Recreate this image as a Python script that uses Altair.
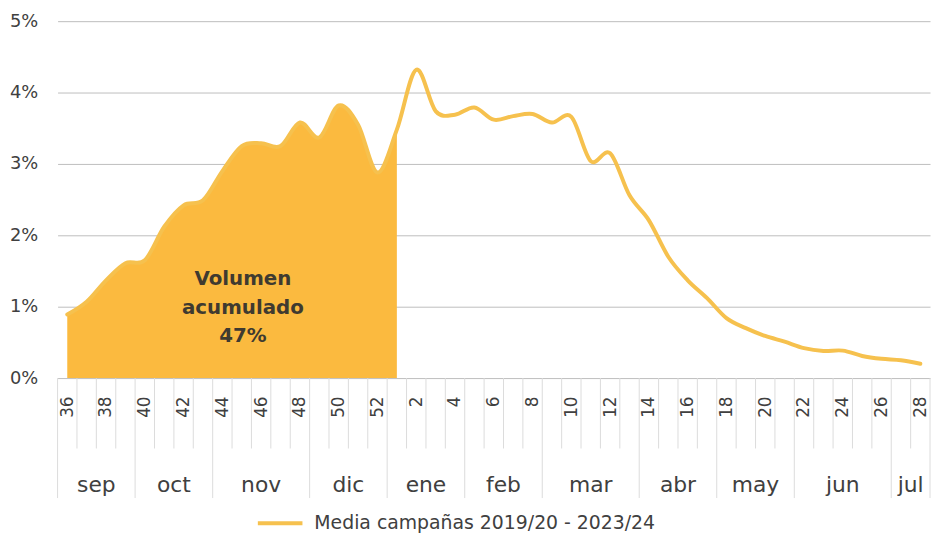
import json
import altair as alt
import pandas as pd

# ---------------- data ----------------
week_labels = [36, 37, 38, 39, 40, 41, 42, 43, 44, 45, 46, 47, 48, 49, 50, 51, 52,
               1, 2, 3, 4, 5, 6, 7, 8, 9, 10, 11, 12, 13, 14, 15, 16, 17, 18, 19, 20,
               21, 22, 23, 24, 25, 26, 27, 28]
values = [0.89, 1.07, 1.37, 1.61, 1.65, 2.12, 2.42, 2.49, 2.90, 3.25, 3.29, 3.25,
          3.58, 3.37, 3.82, 3.55, 2.88, 3.48,
          4.32, 3.74, 3.69, 3.79, 3.62, 3.67, 3.70, 3.58, 3.66, 3.04, 3.15, 2.56,
          2.21, 1.70, 1.37, 1.12, 0.84, 0.70, 0.59, 0.51, 0.42, 0.38, 0.385, 0.31,
          0.27, 0.25, 0.20]
months = ["sep", "oct", "nov", "dic", "ene", "feb", "mar", "abr", "may", "jun", "jul"]
month_weeks = [4, 4, 5, 4, 4, 4, 5, 4, 4, 5, 2]
series_name = "Media campañas 2019/20 - 2023/24"
annotation = ["Volumen", "acumulado", "47%"]
area_last_index = 17          # accumulated area covers weeks 36 .. 1
y_ticks = [0, 1, 2, 3, 4, 5]

# ---------------- style ----------------
FONT = "DejaVu Sans"
AREA_COLOR = "#FBBA3F"
LINE_COLOR = "#F6C14E"
TEXT_COLOR = "#404040"
GRID_COLOR = "#BDBDBD"
SEP_COLOR = "#DCDCDC"

n = len(week_labels)
df = pd.DataFrame({"x": list(range(n)), "v": values, "serie": series_name})
df_area = df[df["x"] <= area_last_index]

# band boundaries
month_bounds = []
acc = -0.5
month_bounds.append(acc)
month_centers = []
for w in month_weeks:
    month_centers.append(acc + w / 2)
    acc += w
    month_bounds.append(acc)
all_bounds = [i - 0.5 for i in range(n + 1)]
minor_bounds = [b for b in all_bounds if b not in month_bounds]

df_minor = pd.DataFrame({"x": minor_bounds})
df_major = pd.DataFrame({"x": month_bounds})
df_months = pd.DataFrame({"x": month_centers, "m": months})
df_note = pd.DataFrame({"x": [9.06], "v": [1.39]})

label_expr = json.dumps([str(w) for w in week_labels]) + "[datum.value]"

X = alt.X(
    "x:Q",
    scale=alt.Scale(domain=[-0.5, n - 0.5], nice=False, zero=False),
    axis=alt.Axis(
        values=list(range(0, n, 2)),
        labelExpr=label_expr,
        labelAngle=270,
        labelAlign="right",
        labelBaseline="middle",
        labelPadding=18,
        labelFontSize=17,
        labelFont=FONT,
        labelColor=TEXT_COLOR,
        ticks=False,
        tickSize=0,
        domain=False,
        grid=False,
        title=None,
        labelOverlap=False,
    ),
)
Y = alt.Y(
    "v:Q",
    scale=alt.Scale(domain=[0, 5], nice=False),
    axis=alt.Axis(
        values=y_ticks,
        labelExpr="datum.value + '%'",
        labelFontSize=18,
        labelFont=FONT,
        labelColor=TEXT_COLOR,
        labelPadding=20,
        ticks=False,
        tickSize=0,
        domain=False,
        grid=True,
        gridColor=GRID_COLOR,
        gridWidth=1,
        title=None,
    ),
)

minor_rules = alt.Chart(df_minor).mark_rule(color=SEP_COLOR, strokeWidth=1).encode(
    x=X, y=alt.value(360), y2=alt.value(431)
)
major_rules = alt.Chart(df_major).mark_rule(color=SEP_COLOR, strokeWidth=1).encode(
    x=X, y=alt.value(360), y2=alt.value(481)
)
month_text = alt.Chart(df_months).mark_text(
    font=FONT, fontSize=22, color=TEXT_COLOR, baseline="middle", align="center"
).encode(x=X, y=alt.value(468), text="m:N")

area = alt.Chart(df_area).mark_area(
    color=AREA_COLOR, interpolate="cardinal", opacity=1
).encode(x=X, y=Y)

line = alt.Chart(df).mark_line(
    interpolate="cardinal", strokeWidth=4, strokeCap="round", strokeJoin="round"
).encode(
    x=X,
    y=Y,
    color=alt.Color(
        "serie:N",
        scale=alt.Scale(domain=[series_name], range=[LINE_COLOR]),
        legend=alt.Legend(
            title=None,
            orient="none",
            legendX=200,
            legendY=482,
            symbolType="stroke",
            symbolStrokeWidth=4,
            symbolSize=2025,
            labelFontSize=19,
            labelFont=FONT,
            labelColor=TEXT_COLOR,
            labelOffset=10,
            labelLimit=0,
        ),
    ),
)

note = alt.Chart(df_note).mark_text(
    text=annotation,
    font=FONT,
    fontSize=20,
    fontWeight="bold",
    color="#3F3A30",
    align="center",
    baseline="middle",
    lineHeight=29,
).encode(x=X, y=Y)

chart = (
    alt.layer(minor_rules, major_rules, month_text, area, line, note)
    .properties(
        width=880,
        height=360,
        autosize=alt.AutoSizeParams(type="none"),
        padding={"left": 50, "top": 11, "right": 3, "bottom": 156},
    )
    .configure_view(stroke=None)
)

chart.save("out.html", embed_options={"renderer": "svg", "actions": False})
